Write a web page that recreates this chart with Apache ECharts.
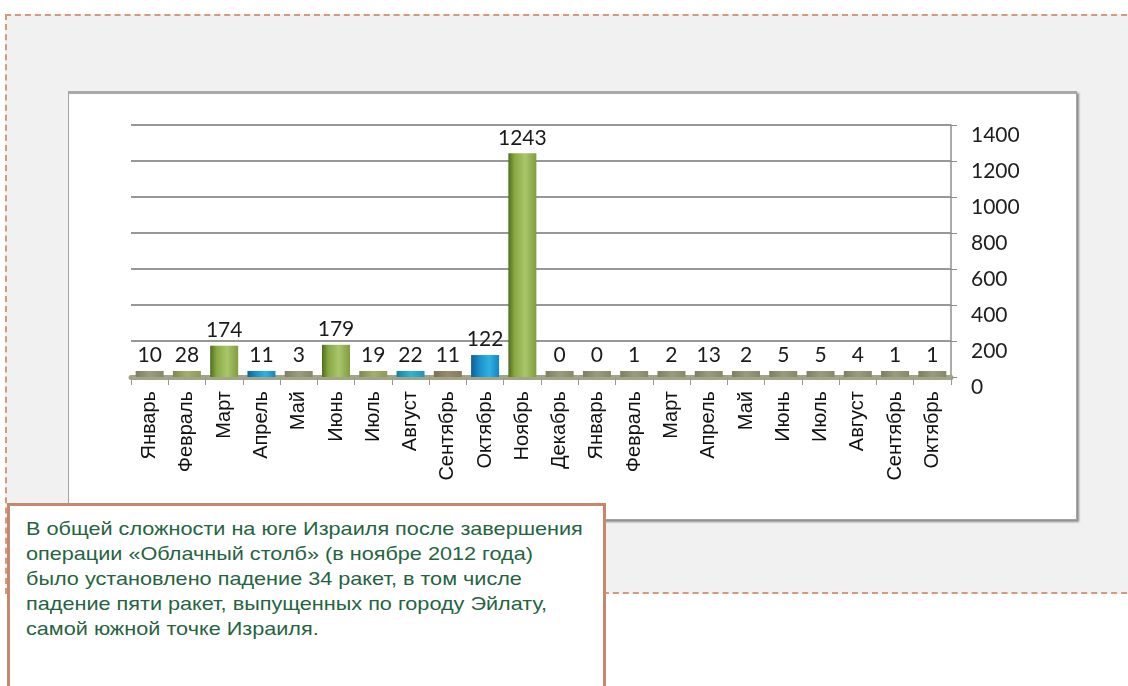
<!DOCTYPE html>
<html>
<head>
<meta charset="utf-8">
<script src="https://cdn.jsdelivr.net/npm/echarts@6/dist/echarts.min.js"></script>
<style>
  html, body { margin: 0; padding: 0; width: 1128px; height: 686px; overflow: hidden; background: #ffffff; }
  #bg { position: absolute; left: 5px; top: 14px; width: 1140px; height: 576px; background: #f1f1f1;
        border-top: 2px dashed #d39a7e; border-left: 2px dashed #d39a7e; border-bottom: 2px dashed #d39a7e; }
  #box { position: absolute; left: 68px; top: 91px; width: 1007px; height: 425px; background: #ffffff;
         border: 1px solid #a3a3a3; border-top: 3px solid #a9a9a9; box-shadow: 2px 2px 2px #8d8d8d; }
  #chart { position: absolute; left: 0; top: 0; width: 1128px; height: 686px; }
  #note { position: absolute; left: 7px; top: 503px; width: 599px; height: 200px; background: #ffffff;
          border: 3px solid #c7876d; box-sizing: border-box; }
  #noteText { position: absolute; left: 16px; top: 10px; white-space: nowrap;
              font-family: "Liberation Sans", Arial, sans-serif; font-size: 18.5px; line-height: 25px;
              color: #25643f; transform: scaleX(1.17); transform-origin: 0 0; }
</style>
</head>
<body>
<div id="bg"></div>
<div id="box"></div>
<div id="chart"></div>
<div id="note"><div id="noteText">В общей сложности на юге Израиля после завершения<br>операции «Облачный столб» (в ноябре 2012 года)<br>было установлено падение 34 ракет, в том числе<br>падение пяти ракет, выпущенных по городу Эйлату,<br>самой южной точке Израиля.</div></div>
<script>
// Data
const categories = ["Январь","Февраль","Март","Апрель","Май","Июнь","Июль","Август","Сентябрь","Октябрь","Ноябрь","Декабрь",
                    "Январь","Февраль","Март","Апрель","Май","Июнь","Июль","Август","Сентябрь","Октябрь"];
const values = [10, 28, 174, 11, 3, 179, 19, 22, 11, 122, 1243, 0, 0, 1, 2, 13, 2, 5, 5, 4, 1, 1];
const yMin = 0, yMax = 1400, yStep = 200;
// colour key per bar (style, not data)
const barColorKeys = ["gray","olive","green","blue","gray","green","olive","teal","brown","blue","green","gray",
                      "gray","gray","gray","gray","gray","gray","gray","gray","gray","gray"];

function grad(stops) {
  return new echarts.graphic.LinearGradient(0, 0, 1, 0, stops.map(c => ({ offset: c[0], color: c[1] })));
}
const palette = {
  green: grad([[0, "#4f6d1c"], [0.22, "#87a843"], [0.6, "#a9c66b"], [1, "#7f9d3f"]]),
  olive: grad([[0, "#7d8a4f"], [0.5, "#a3b06e"], [1, "#8c9a5a"]]),
  gray:  grad([[0, "#7c7f62"], [0.5, "#9a9c7d"], [1, "#85886a"]]),
  brown: grad([[0, "#7b7058"], [0.5, "#978b6e"], [1, "#857a60"]]),
  blue:  grad([[0, "#0e5f95"], [0.3, "#1d8fcb"], [0.65, "#2db3e0"], [1, "#1583c2"]]),
  teal:  grad([[0, "#15809f"], [0.5, "#31b4d2"], [1, "#1e96b8"]])
};

const chart = echarts.init(document.getElementById("chart"), null, { renderer: "canvas" });
chart.setOption({
  animation: false,
  backgroundColor: "transparent",
  grid: { left: 131, right: 177, top: 125, bottom: 309, containLabel: false },
  xAxis: {
    type: "category",
    data: categories,
    axisLine: { show: true, lineStyle: { color: "#a2a487", width: 5 } },
    axisTick: { show: true, length: 8, lineStyle: { color: "#9a9a9a", width: 1 } },
    axisLabel: { rotate: 90, margin: 14, interval: 0, fontFamily: "Liberation Sans", fontSize: 20, color: "#111111" }
  },
  yAxis: {
    type: "value",
    position: "right",
    min: yMin, max: yMax, interval: yStep,
    axisLine: { show: true, lineStyle: { color: "#8e8e8e", width: 1.5 } },
    axisTick: { show: true, length: 6, lineStyle: { color: "#8e8e8e" } },
    splitLine: { show: true, lineStyle: { color: "#767676", width: 1.5 } },
    axisLabel: { margin: 20, fontFamily: "Lato", fontSize: 21, color: "#1e1e1e", verticalAlign: "top",
                 formatter: v => String(v) }
  },
  series: [{
    type: "bar",
    data: values.map((v, i) => ({ value: v, itemStyle: { color: palette[barColorKeys[i]] } })),
    barWidth: 28,
    barMinHeight: 6,
    label: { show: true, position: "top", distance: 5, fontFamily: "Lato", fontSize: 21, color: "#1a1a1a" }
  }]
});
</script>
</body>
</html>
